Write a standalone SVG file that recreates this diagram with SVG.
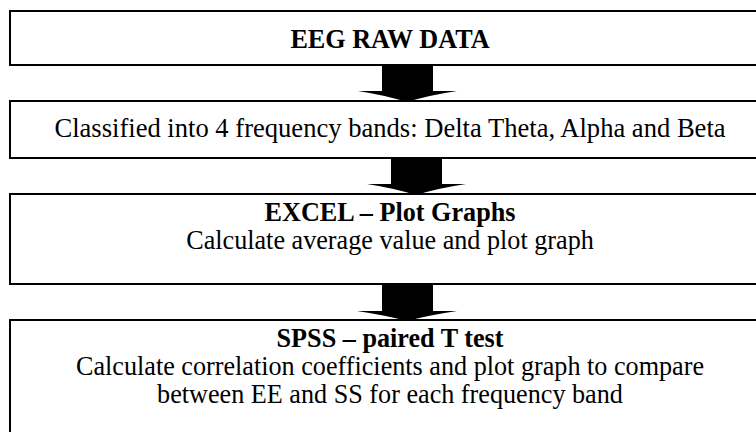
<svg xmlns="http://www.w3.org/2000/svg" width="756" height="432" viewBox="0 0 756 432">
<style>
.box{fill:#fff;stroke:#000;stroke-width:2}
.t{font-family:"Liberation Serif","Times New Roman",serif;font-size:27px;fill:#000;text-anchor:middle}
.b{font-weight:bold}
.arr{fill:#000;stroke:none}
</style>
<rect width="756" height="432" fill="#fff"/>
<g id="n1">
<rect class="box" x="10" y="11" width="770" height="54"/>
<text class="t b" transform="translate(390,48) scale(0.97,1)">EEG RAW DATA</text>
</g>
<g id="n2">
<rect class="box" x="10" y="101" width="770" height="57"/>
<text class="t" transform="translate(390,137) scale(0.985,1)">Classified into 4 frequency bands: Delta Theta, Alpha and Beta</text>
</g>
<g id="n3">
<rect class="box" x="10" y="194" width="770" height="90"/>
<text class="t b" transform="translate(390,221) scale(0.97,1)">EXCEL – Plot Graphs</text>
<text class="t" transform="translate(390,249) scale(0.97,1)">Calculate average value and plot graph</text>
</g>
<g id="n4">
<rect class="box" x="10" y="320" width="770" height="130"/>
<text class="t b" transform="translate(390,347) scale(0.97,1)">SPSS – paired T test</text>
<text class="t" transform="translate(390,375) scale(0.97,1)">Calculate correlation coefficients and plot graph to compare</text>
<text class="t" transform="translate(390,403) scale(0.97,1)">between EE and SS for each frequency band</text>
</g>
<g id="connectors">
<path class="arr" d="M382 66 H433 V91 H457 Q430 95 407 102 Q384 95 358 91 H382 Z"/>
<path class="arr" d="M391 159 H442 V184 H466 Q439 188 416 195 Q393 188 367 184 H391 Z"/>
<path class="arr" d="M382 285 H433 V311 H457 Q430 315 407 321 Q384 315 357 311 H382 Z"/>
</g>
</svg>
